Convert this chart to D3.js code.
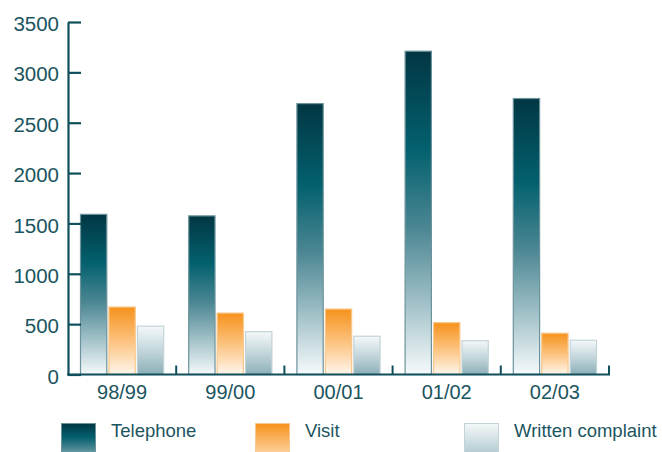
<!DOCTYPE html>
<html>
<head>
<meta charset="utf-8">
<script src="https://cdn.jsdelivr.net/npm/d3@7"></script>
<style>
  html, body { margin: 0; padding: 0; background: #fff; }
  svg { display: block; }
  text { font-family: "Liberation Sans", Arial, sans-serif; fill: #1b5560; }
</style>
</head>
<body>
<svg id="chart" width="662" height="452"></svg>
<script>
// Contacts by type per financial year
const years = ["98/99", "99/00", "00/01", "01/02", "02/03"];
const seriesNames = ["Telephone", "Visit", "Written complaint"];
const telephone = [1590, 1575, 2690, 3210, 2740];
const visit = [670, 610, 650, 515, 410];
const written = [480, 425, 380, 335, 340];
const yTicks = [0, 500, 1000, 1500, 2000, 2500, 3000, 3500];

const seriesValues = [telephone, visit, written];

const svg = d3.select("#chart");
const axisColor = "#0e4f5b";

// Gradients for bars and legend swatches
const defs = svg.append("defs");
const gradients = [
  { id: "g-tel", stops: [[0, "#023643"], [0.3, "#03606e"], [0.55, "#4c8793"], [0.8, "#a9c6cd"], [1, "#f6fafb"]], stroke: "#6c939b" },
  { id: "g-vis", stops: [[0, "#f6921c"], [0.5, "#fcc27e"], [1, "#fff6ec"]], stroke: "#f9c88c" },
  { id: "g-wri", stops: [[0, "#f4f8f9"], [0.5, "#c3d6db"], [1, "#8cafb8"]], stroke: "#c2d3d7" }
];
gradients.forEach(g => {
  const lg = defs.append("linearGradient").attr("id", g.id)
    .attr("x1", 0).attr("y1", 0).attr("x2", 0).attr("y2", 1);
  g.stops.forEach(([o, c]) => lg.append("stop").attr("offset", o).attr("stop-color", c));
});

const plotLeft = 68, plotRight = 609, plotTop = 22, plotBottom = 374.5;

const x0 = d3.scaleBand().domain(years).range([plotLeft, plotRight]).padding(0);
const x1 = d3.scaleBand().domain(seriesNames)
  .range([12, x0.bandwidth() - 12]).paddingInner(0.04);
const y = d3.scaleLinear().domain([0, 3500]).range([plotBottom, plotTop]);

// Bars
const groups = svg.append("g").selectAll("g")
  .data(years)
  .join("g")
  .attr("transform", d => `translate(${x0(d)},0)`);

groups.selectAll("rect")
  .data((d, i) => seriesNames.map((s, k) => ({ s, k, v: seriesValues[k][i] })))
  .join("rect")
  .attr("x", d => x1(d.s) + 0.5)
  .attr("width", x1.bandwidth() - 1)
  .attr("y", d => y(d.v))
  .attr("height", d => plotBottom - y(d.v))
  .attr("fill", d => `url(#${gradients[d.k].id})`)
  .attr("stroke", d => gradients[d.k].stroke)
  .attr("stroke-width", 1.2);

// Y axis with inward ticks
const yAxis = svg.append("g")
  .attr("transform", `translate(${plotLeft},0)`)
  .call(d3.axisRight(y).tickValues(yTicks).tickSize(13).tickSizeOuter(0).tickFormat(d3.format("d")));
yAxis.select(".domain").attr("stroke", axisColor).attr("stroke-width", 2.2);
yAxis.selectAll(".tick line").attr("stroke", axisColor).attr("stroke-width", 2.2);
yAxis.selectAll(".tick text")
  .attr("x", -9)
  .attr("dy", "0.42em")
  .attr("text-anchor", "end")
  .style("font-size", "20.5px")
  .attr("fill", "#1b5560");

// X axis line with small upward separators between groups
const xAxis = svg.append("g").attr("transform", `translate(0,${plotBottom})`);
xAxis.append("line")
  .attr("x1", plotLeft - 1).attr("x2", plotRight + 1)
  .attr("stroke", axisColor).attr("stroke-width", 2.2);
const seps = years.map(d => x0(d)).concat([plotRight]).slice(1);
xAxis.selectAll("line.sep")
  .data(seps)
  .join("line")
  .attr("class", "sep")
  .attr("x1", d => d).attr("x2", d => d)
  .attr("y1", 0).attr("y2", -9)
  .attr("stroke", axisColor).attr("stroke-width", 2);
xAxis.selectAll("text")
  .data(years)
  .join("text")
  .attr("x", d => x0(d) + x0.bandwidth() / 2)
  .attr("y", 24)
  .attr("text-anchor", "middle")
  .style("font-size", "20px")
  .text(d => d);

// Legend
const legendX = [61, 255, 464];
const legend = svg.append("g").selectAll("g")
  .data(seriesNames)
  .join("g")
  .attr("transform", (d, i) => `translate(${legendX[i]},423)`);
legend.append("rect")
  .attr("x", 0.5).attr("y", 0.5)
  .attr("width", 34).attr("height", 46)
  .attr("fill", (d, i) => `url(#${gradients[i].id})`)
  .attr("stroke", (d, i) => gradients[i].stroke);
legend.append("text")
  .attr("x", 50)
  .attr("y", 14)
  .style("font-size", "18.5px")
  .text(d => d);
</script>
</body>
</html>
